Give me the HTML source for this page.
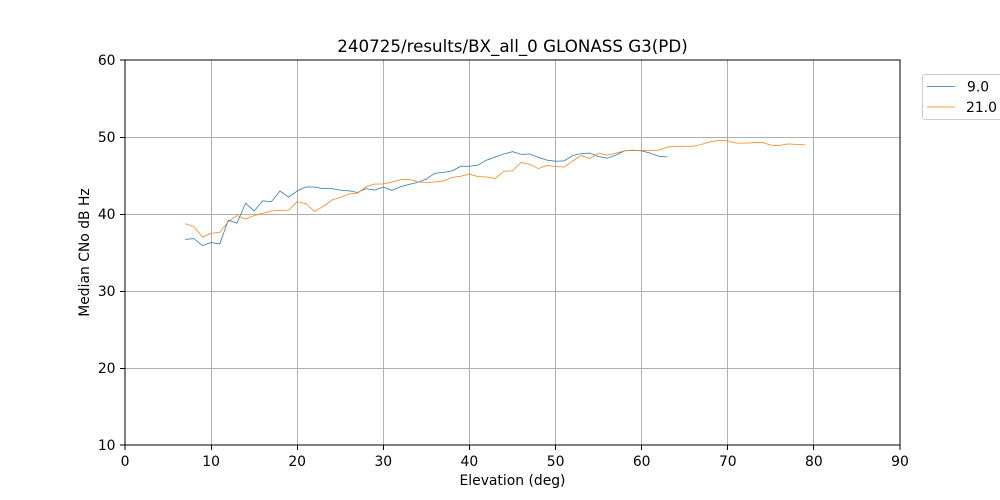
<!DOCTYPE html>
<html><head><meta charset="utf-8"><style>
html,body{margin:0;padding:0;background:#fff;}
svg{display:block;}
text{font-family:"DejaVu Sans","Liberation Sans",sans-serif;fill:#000;}
</style></head><body>
<svg width="1000" height="500" viewBox="0 0 1000 500" xmlns="http://www.w3.org/2000/svg">
<rect x="0" y="0" width="1000" height="500" fill="#fff"/>
<!-- grid -->
<g stroke="#b0b0b0" stroke-width="1">
<line x1="211.5" y1="60" x2="211.5" y2="445"/>
<line x1="297.5" y1="60" x2="297.5" y2="445"/>
<line x1="383.5" y1="60" x2="383.5" y2="445"/>
<line x1="469.5" y1="60" x2="469.5" y2="445"/>
<line x1="555.5" y1="60" x2="555.5" y2="445"/>
<line x1="641.5" y1="60" x2="641.5" y2="445"/>
<line x1="727.5" y1="60" x2="727.5" y2="445"/>
<line x1="813.5" y1="60" x2="813.5" y2="445"/>
<line x1="125" y1="137.5" x2="900" y2="137.5"/>
<line x1="125" y1="214.5" x2="900" y2="214.5"/>
<line x1="125" y1="291.5" x2="900" y2="291.5"/>
<line x1="125" y1="368.5" x2="900" y2="368.5"/>
</g>
<!-- data -->
<g transform="translate(125,522) scale(8.61111,-7.7)" fill="none">
<polyline vector-effect="non-scaling-stroke" stroke="#1f77b4" stroke-width="0.75" stroke-linejoin="round" points="7,36.7 8,36.8 9,35.9 10,36.3 11,36.1 12,39.2 13,38.8 14,41.4 15,40.4 16,41.7 17,41.6 18,43.0 19,42.2 20,43.0 21,43.5 22,43.5 23,43.3 24,43.3 25,43.1 26,43.0 27,42.8 28,43.3 29,43.1 30,43.5 31,43.07 32,43.55 33,43.85 34,44.1 35,44.55 36,45.3 37,45.4 38,45.6 39,46.2 40,46.2 41,46.35 42,47.0 43,47.4 44,47.8 45,48.1 46,47.75 47,47.8 48,47.35 49,47.0 50,46.85 51,46.9 52,47.6 53,47.85 54,47.9 55,47.45 56,47.25 57,47.65 58,48.2 59,48.3 60,48.2 61,47.9 62,47.5 63,47.4"/>
<polyline vector-effect="non-scaling-stroke" stroke="#ff7f0e" stroke-width="0.75" stroke-linejoin="round" points="7,38.75 8,38.35 9,37.0 10,37.5 11,37.6 12,39.0 13,39.8 14,39.35 15,39.8 16,40.1 17,40.4 18,40.45 19,40.5 20,41.6 21,41.35 22,40.35 23,40.95 24,41.8 25,42.15 26,42.6 27,42.7 28,43.55 29,43.9 30,43.9 31,44.15 32,44.45 33,44.5 34,44.15 35,44.1 36,44.15 37,44.3 38,44.75 39,44.9 40,45.2 41,44.85 42,44.8 43,44.6 44,45.55 45,45.6 46,46.7 47,46.45 48,45.9 49,46.3 50,46.15 51,46.1 52,46.9 53,47.6 54,47.2 55,47.9 56,47.65 57,47.9 58,48.2 59,48.25 60,48.25 61,48.25 62,48.3 63,48.7 64,48.75 65,48.8 66,48.8 67,49.05 68,49.4 69,49.55 70,49.5 71,49.2 72,49.2 73,49.25 74,49.3 75,48.95 76,48.9 77,49.1 78,49.05 79,49.0"/>
</g>
<!-- spines -->
<rect x="125" y="60" width="775" height="385" fill="none" stroke="#000" stroke-width="1"/>
<!-- ticks -->
<g stroke="#000" stroke-width="1">
<line x1="125" y1="445" x2="125" y2="450"/>
<line x1="211.5" y1="445" x2="211.5" y2="450"/>
<line x1="297.5" y1="445" x2="297.5" y2="450"/>
<line x1="383.5" y1="445" x2="383.5" y2="450"/>
<line x1="469.5" y1="445" x2="469.5" y2="450"/>
<line x1="555.5" y1="445" x2="555.5" y2="450"/>
<line x1="641.5" y1="445" x2="641.5" y2="450"/>
<line x1="727.5" y1="445" x2="727.5" y2="450"/>
<line x1="813.5" y1="445" x2="813.5" y2="450"/>
<line x1="900" y1="445" x2="900" y2="450"/>
<line x1="120" y1="60" x2="125" y2="60"/>
<line x1="120" y1="137.5" x2="125" y2="137.5"/>
<line x1="120" y1="214.5" x2="125" y2="214.5"/>
<line x1="120" y1="291.5" x2="125" y2="291.5"/>
<line x1="120" y1="368.5" x2="125" y2="368.5"/>
<line x1="120" y1="445" x2="125" y2="445"/>
</g>
<g font-size="13.9" text-anchor="middle">
<text x="125" y="466">0</text>
<text x="211.1" y="466">10</text>
<text x="297.2" y="466">20</text>
<text x="383.3" y="466">30</text>
<text x="469.4" y="466">40</text>
<text x="555.6" y="466">50</text>
<text x="641.7" y="466">60</text>
<text x="727.8" y="466">70</text>
<text x="813.9" y="466">80</text>
<text x="900" y="466">90</text>
</g>
<g font-size="13.9" text-anchor="end">
<text x="115.5" y="65">60</text>
<text x="115.5" y="142">50</text>
<text x="115.5" y="219">40</text>
<text x="115.5" y="296">30</text>
<text x="115.5" y="373">20</text>
<text x="115.5" y="450">10</text>
</g>
<text x="512.5" y="52" font-size="16.7" text-anchor="middle">240725/results/BX_all_0 GLONASS G3(PD)</text>
<text x="512.5" y="485" font-size="13.9" text-anchor="middle">Elevation (deg)</text>
<text transform="translate(89,252.5) rotate(-90)" font-size="13.9" text-anchor="middle">Median CNo dB Hz</text>
<!-- legend -->
<rect x="922.5" y="74.5" width="90" height="45" rx="2.5" fill="#fff" fill-opacity="0.8" stroke="#cccccc" stroke-width="1"/>
<line x1="927" y1="86.5" x2="955" y2="86.5" stroke="#1f77b4" stroke-width="0.75"/>
<text x="967" y="91.5" font-size="13.9">9.0</text>
<line x1="927" y1="107" x2="955" y2="107" stroke="#ff7f0e" stroke-width="0.75"/>
<text x="966" y="112" font-size="13.9">21.0</text>
</svg>
</body></html>
